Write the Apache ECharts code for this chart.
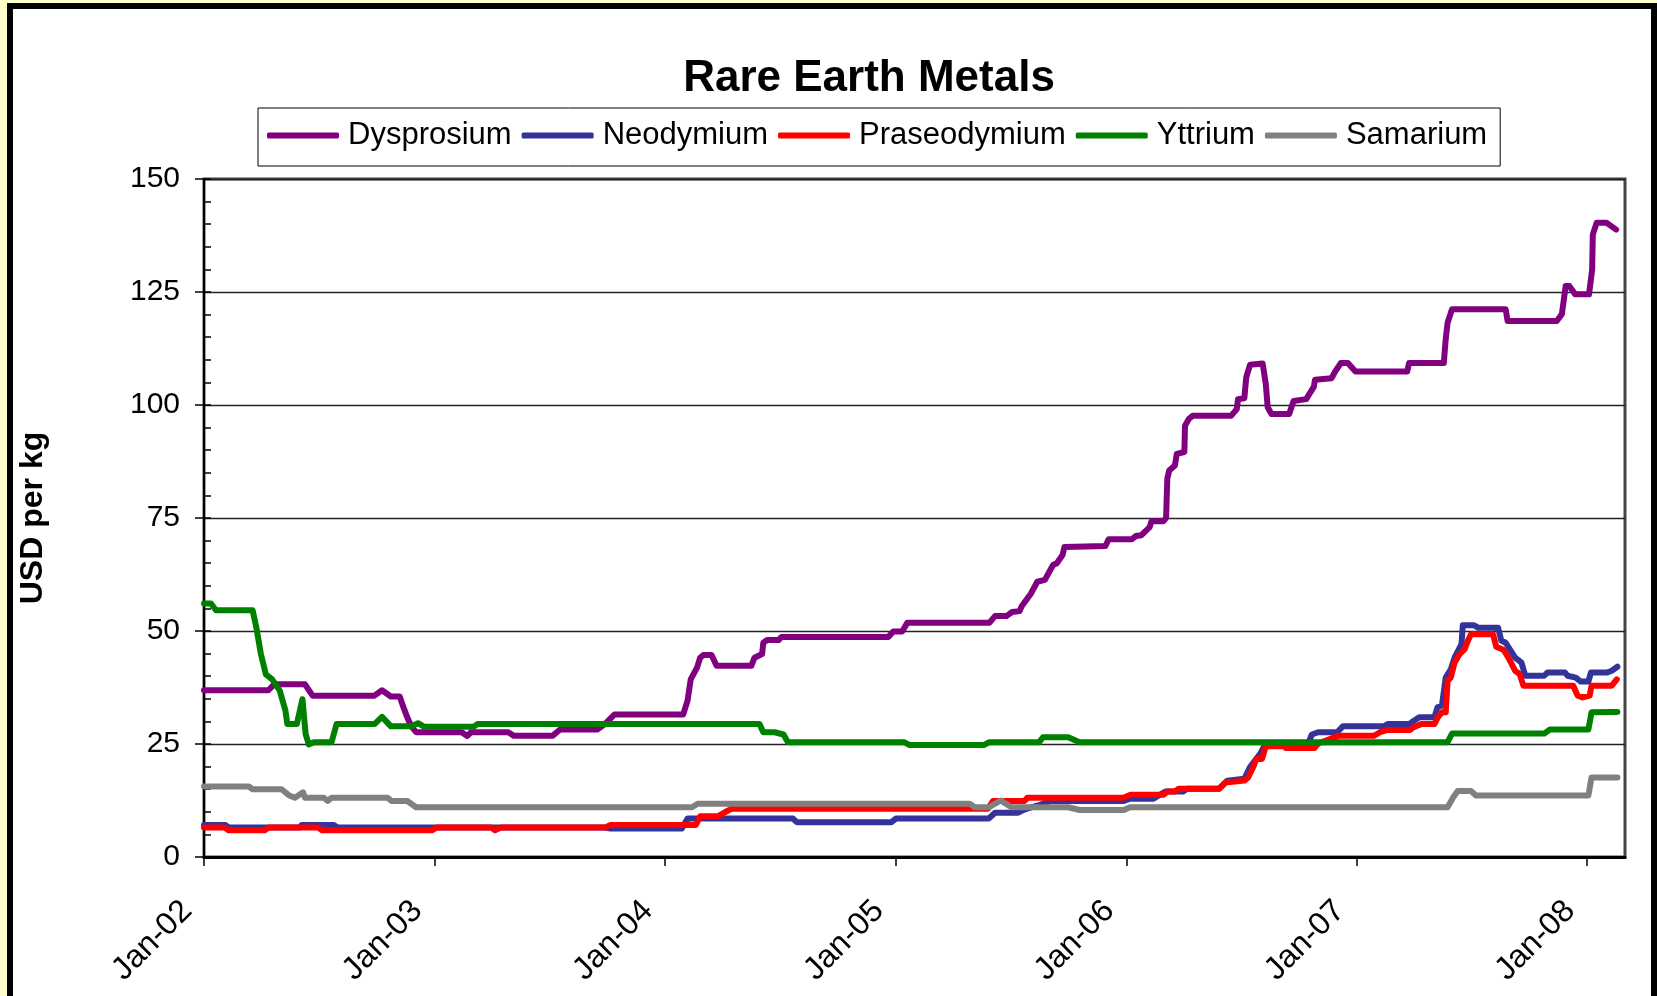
<!DOCTYPE html>
<html>
<head>
<meta charset="utf-8">
<script src="https://cdn.jsdelivr.net/npm/echarts@6/dist/echarts.min.js"></script>
<style>
html,body{margin:0;padding:0;background:#FFFFCC;}
#chart{width:1657px;height:996px;}
</style>
</head>
<body>
<div id="chart"></div>
<script>
const titleText = 'Rare Earth Metals';
const yAxisTitle = 'USD per kg';
const seriesNames = ['Dysprosium', 'Neodymium', 'Praseodymium', 'Yttrium', 'Samarium'];
const seriesColors = ['#800080', '#333399', '#FF0000', '#008000', '#808080'];
const xTickDates = ['2002-01-01', '2003-01-01', '2004-01-01', '2005-01-01', '2006-01-01', '2007-01-01', '2008-01-01'];
const xTickLabels = ['Jan-02', 'Jan-03', 'Jan-04', 'Jan-05', 'Jan-06', 'Jan-07', 'Jan-08'];
const xStart = '2002-01-01';
const xEnd = '2008-03-01';
const yTicks = [0, 25, 50, 75, 100, 125, 150];

const dysprosium = [
['2002-01-01',36.9],['2002-04-13',36.9],['2002-04-22',38.2],['2002-06-10',38.2],['2002-06-22',35.7],['2002-09-28',35.7],['2002-10-10',36.9],['2002-10-24',35.5],['2002-11-07',35.5],['2002-11-13',33.1],['2002-11-19',30.9],['2002-11-25',29.0],['2002-12-03',27.6],['2003-02-13',27.6],['2003-02-22',26.8],['2003-02-28',27.6],['2003-04-28',27.6],['2003-05-07',26.8],['2003-07-07',26.8],['2003-07-19',28.2],['2003-09-16',28.2],['2003-09-28',29.4],['2003-10-13',31.5],['2004-01-30',31.5],['2004-02-06',34.6],['2004-02-11',39.3],['2004-02-21',41.9],['2004-02-26',44.1],['2004-03-02',44.7],['2004-03-15',44.7],['2004-03-23',42.3],['2004-05-17',42.3],['2004-05-22',44.1],['2004-06-03',44.9],['2004-06-05',47.4],['2004-06-11',48.0],['2004-06-29',48.0],['2004-07-04',48.7],['2004-12-20',48.7],['2004-12-28',49.9],['2005-01-11',49.9],['2005-01-19',51.8],['2005-05-29',51.8],['2005-06-07',53.3],['2005-06-25',53.3],['2005-06-30',53.8],['2005-07-04',54.2],['2005-07-16',54.4],['2005-07-19',55.4],['2005-08-03',58.3],['2005-08-13',60.9],['2005-08-25',61.3],['2005-09-07',64.6],['2005-09-13',65.0],['2005-09-22',66.8],['2005-09-25',68.6],['2005-11-29',68.8],['2005-12-04',70.3],['2006-01-10',70.3],['2006-01-16',71.0],['2006-01-25',71.2],['2006-02-07',73.0],['2006-02-10',74.3],['2006-03-01',74.3],['2006-03-05',75.0],['2006-03-07',83.7],['2006-03-10',85.5],['2006-03-19',86.6],['2006-03-22',89.2],['2006-04-03',89.6],['2006-04-04',95.4],['2006-04-10',96.9],['2006-04-16',97.6],['2006-06-16',97.6],['2006-06-25',99.1],['2006-06-27',101.3],['2006-07-07',101.5],['2006-07-10',106.1],['2006-07-16',108.9],['2006-08-05',109.2],['2006-08-10',104.6],['2006-08-13',99.5],['2006-08-19',98.0],['2006-09-16',98.0],['2006-09-23',100.9],['2006-10-13',101.3],['2006-10-25',104.0],['2006-10-27',105.6],['2006-11-22',105.9],['2006-11-27',107.2],['2006-12-07',109.3],['2006-12-18',109.3],['2006-12-30',107.4],['2007-03-22',107.4],['2007-03-25',109.3],['2007-05-19',109.3],['2007-05-22',114.6],['2007-05-25',118.2],['2007-06-01',121.2],['2007-08-25',121.2],['2007-08-28',118.6],['2007-11-14',118.6],['2007-11-22',120.1],['2007-11-28',126.3],['2007-12-04',126.3],['2007-12-13',124.5],['2008-01-04',124.5],['2008-01-09',130.0],['2008-01-10',137.7],['2008-01-16',140.3],['2008-02-01',140.3],['2008-02-16',138.8]
];

const neodymium = [
['2002-01-01',7.1],['2002-02-04',7.1],['2002-02-09',6.5],['2002-06-01',6.5],['2002-06-05',7.1],['2002-07-25',7.1],['2002-08-01',6.5],['2003-09-28',6.5],['2003-10-07',6.3],['2004-01-28',6.3],['2004-02-06',8.5],['2004-07-22',8.5],['2004-07-28',7.7],['2004-12-25',7.7],['2005-01-01',8.5],['2005-05-28',8.5],['2005-06-07',9.8],['2005-07-13',9.8],['2005-07-22',10.4],['2005-07-28',10.7],['2005-08-14',11.4],['2005-09-04',12.4],['2005-12-28',12.4],['2006-01-07',12.9],['2006-02-13',12.9],['2006-03-04',14.5],['2006-04-01',14.5],['2006-04-07',15.1],['2006-05-28',15.1],['2006-06-10',16.9],['2006-07-07',17.3],['2006-07-16',19.9],['2006-08-01',22.8],['2006-08-10',25.1],['2006-10-16',25.1],['2006-10-22',27.1],['2006-11-01',27.6],['2006-12-01',27.6],['2006-12-10',28.9],['2007-02-13',28.9],['2007-02-19',29.4],['2007-03-25',29.4],['2007-04-01',30.1],['2007-04-10',30.9],['2007-05-04',30.9],['2007-05-09',33.1],['2007-05-16',33.5],['2007-05-22',39.7],['2007-05-30',41.5],['2007-06-05',44.1],['2007-06-16',47.1],['2007-06-18',51.25],['2007-07-06',51.25],['2007-07-13',50.7],['2007-08-13',50.7],['2007-08-18',47.9],['2007-08-25',47.4],['2007-09-09',44.1],['2007-09-19',43.0],['2007-09-25',40.1],['2007-10-25',40.1],['2007-10-30',40.8],['2007-11-27',40.8],['2007-12-01',40.1],['2007-12-14',39.7],['2007-12-22',38.8],['2008-01-03',38.8],['2008-01-07',40.8],['2008-02-01',40.8],['2008-02-09',41.2],['2008-02-18',42.1]
];

const praseodymium = [
['2002-01-01',6.5],['2002-02-03',6.5],['2002-02-09',5.9],['2002-04-07',5.9],['2002-04-13',6.5],['2002-07-01',6.5],['2002-07-07',5.9],['2002-12-28',5.9],['2003-01-04',6.5],['2003-04-01',6.5],['2003-04-07',5.9],['2003-04-16',6.5],['2003-09-28',6.5],['2003-10-07',7.1],['2004-02-19',7.1],['2004-02-26',9.0],['2004-03-25',9.0],['2004-04-05',9.9],['2004-04-16',10.7],['2005-05-27',10.7],['2005-06-04',12.4],['2005-07-24',12.4],['2005-07-28',13.1],['2005-12-28',13.1],['2006-01-07',13.75],['2006-03-01',13.75],['2006-03-07',14.5],['2006-03-19',14.5],['2006-03-25',15.1],['2006-05-28',15.1],['2006-06-07',16.5],['2006-07-07',16.9],['2006-07-13',17.6],['2006-07-22',20.2],['2006-07-26',21.7],['2006-08-04',21.7],['2006-08-10',24.5],['2006-09-07',24.5],['2006-09-11',24.1],['2006-10-26',24.1],['2006-11-01',25.1],['2006-12-03',26.8],['2007-01-28',26.8],['2007-02-07',27.6],['2007-02-19',28.1],['2007-03-26',28.1],['2007-04-01',28.7],['2007-04-13',29.4],['2007-05-04',29.4],['2007-05-10',31.0],['2007-05-16',32.0],['2007-05-22',32.0],['2007-05-25',39.0],['2007-05-30',39.7],['2007-06-05',43.0],['2007-06-13',44.9],['2007-06-21',46.0],['2007-06-26',47.8],['2007-07-01',49.3],['2007-08-05',49.3],['2007-08-10',46.5],['2007-08-22',45.8],['2007-09-01',43.4],['2007-09-09',41.2],['2007-09-16',40.5],['2007-09-22',37.9],['2007-12-10',37.9],['2007-12-17',35.7],['2007-12-25',35.3],['2008-01-05',35.7],['2008-01-08',37.9],['2008-02-09',37.9],['2008-02-17',39.3]
];

const yttrium = [
['2002-01-01',56.1],['2002-01-12',56.1],['2002-01-20',54.6],['2002-03-19',54.6],['2002-03-25',50.7],['2002-04-01',45.0],['2002-04-09',40.4],['2002-04-19',39.3],['2002-05-01',36.8],['2002-05-10',32.4],['2002-05-13',29.4],['2002-05-28',29.4],['2002-06-06',34.9],['2002-06-11',27.2],['2002-06-16',24.9],['2002-06-24',25.4],['2002-07-22',25.4],['2002-07-30',29.4],['2002-09-28',29.4],['2002-10-10',31.0],['2002-10-24',28.9],['2002-11-25',28.9],['2002-12-06',29.6],['2002-12-16',28.8],['2003-03-04',28.8],['2003-03-10',29.4],['2004-05-30',29.4],['2004-06-05',27.6],['2004-06-23',27.6],['2004-07-07',27.1],['2004-07-14',25.4],['2005-01-14',25.4],['2005-01-22',24.8],['2005-05-21',24.8],['2005-05-29',25.4],['2005-08-16',25.4],['2005-08-22',26.5],['2005-10-01',26.5],['2005-10-19',25.4],['2007-05-25',25.4],['2007-06-01',27.3],['2007-10-25',27.3],['2007-11-03',28.2],['2008-01-03',28.2],['2008-01-08',32.0],['2008-02-18',32.1]
];

const samarium = [
['2002-01-01',15.6],['2002-03-13',15.6],['2002-03-19',15.0],['2002-05-04',15.0],['2002-05-16',13.6],['2002-05-25',13.1],['2002-06-07',14.3],['2002-06-10',13.1],['2002-07-10',13.1],['2002-07-16',12.4],['2002-07-22',13.1],['2002-10-19',13.1],['2002-10-25',12.4],['2002-11-19',12.4],['2002-12-03',11.0],['2004-02-13',11.0],['2004-02-22',11.8],['2005-04-28',11.8],['2005-05-06',11.0],['2005-05-28',11.0],['2005-06-16',12.5],['2005-07-03',11.0],['2005-10-01',11.0],['2005-10-19',10.4],['2005-12-28',10.4],['2006-01-07',11.0],['2007-05-25',11.0],['2007-06-03',13.2],['2007-06-10',14.6],['2007-07-01',14.6],['2007-07-09',13.6],['2008-01-03',13.6],['2008-01-08',17.6],['2008-02-18',17.6]
];

const DAY = 86400000;
const t0 = Date.parse(xStart);
function dayIndex(s) { return Math.round((Date.parse(s) - t0) / DAY); }
function toXY(arr) { return arr.map(function (p) { return [dayIndex(p[0]), p[1]]; }); }
const xTickValues = xTickDates.map(dayIndex);
const xMax = dayIndex(xEnd);
const allData = [dysprosium, neodymium, praseodymium, yttrium, samarium];
const FONT = '"Liberation Sans", Arial, sans-serif';

const chart = echarts.init(document.getElementById('chart'), null, {renderer: 'canvas'});
chart.setOption({
  animation: false,
  backgroundColor: '#FFFFCC',
  graphic: [{
    type: 'rect', z: -10, silent: true,
    shape: {x: 10, y: 6, width: 1644, height: 1100},
    style: {fill: '#FFFFFF', stroke: '#000000', lineWidth: 6}
  }],
  title: {
    text: titleText,
    left: 864, top: 52,
    textAlign: 'center',
    textStyle: {fontFamily: FONT, fontWeight: 'bold', fontSize: 44, color: '#000'}
  },
  legend: {
    left: 258, top: 108,
    padding: [12, 13, 15, 9],
    icon: 'roundRect',
    itemWidth: 72, itemHeight: 6, itemGap: 10,
    borderColor: '#000', borderWidth: 1,
    backgroundColor: '#fff',
    textStyle: {fontFamily: FONT, fontSize: 31, color: '#000', padding: [0, 0, 0, 4]},
    data: seriesNames
  },
  grid: {
    left: 204, right: 32, top: 179, bottom: 139,
    outerBoundsMode: 'none',
    containLabel: false,
    show: true, borderColor: '#444', borderWidth: 3, backgroundColor: 'transparent'
  },
  xAxis: {
    type: 'value', min: 0, max: xMax,
    axisLine: {show: true, onZero: false, lineStyle: {color: '#000', width: 3}},
    axisTick: {show: true, length: 9, lineStyle: {color: '#000', width: 1.5}, customValues: xTickValues},
    axisLabel: {
      customValues: xTickValues,
      rotate: 45, margin: 32,
      padding: [0, 24, 0, 0],
      fontFamily: FONT, fontSize: 32, color: '#000',
      formatter: function (v) { const i = xTickValues.indexOf(Math.round(v)); return i >= 0 ? xTickLabels[i] : ''; }
    },
    splitLine: {show: false}
  },
  yAxis: [{
    type: 'value', min: 0, max: 150, interval: 25,
    name: yAxisTitle, nameLocation: 'middle', nameGap: 155, nameRotate: 90,
    nameTextStyle: {fontFamily: FONT, fontWeight: 'bold', fontSize: 32, color: '#000'},
    axisLine: {show: true, lineStyle: {color: '#000', width: 2}},
    axisTick: {show: true, length: 9, lineStyle: {color: '#000', width: 1.5}},
    axisLabel: {margin: 24, fontFamily: FONT, fontSize: 30, color: '#000',
      formatter: function (v) { return yTicks.indexOf(v) >= 0 ? String(v) : ''; }},
    splitLine: {show: true, lineStyle: {color: '#222', width: 1.3}}
  }, {
    type: 'value', min: 0, max: 150, interval: 5, position: 'left', offset: 0,
    axisLine: {show: false},
    axisTick: {show: true, inside: true, length: 7, lineStyle: {color: '#000', width: 1.5}},
    axisLabel: {show: false},
    splitLine: {show: false}
  }],
  series: seriesNames.map(function (n, i) {
    return {
      name: n, type: 'line', yAxisIndex: 0,
      data: toXY(allData[i]),
      symbol: 'none', showSymbol: false,
      color: seriesColors[i],
      lineStyle: {width: 6, color: seriesColors[i], cap: 'round', join: 'round'},
      z: 2 + i
    };
  })
});
</script>
</body>
</html>
